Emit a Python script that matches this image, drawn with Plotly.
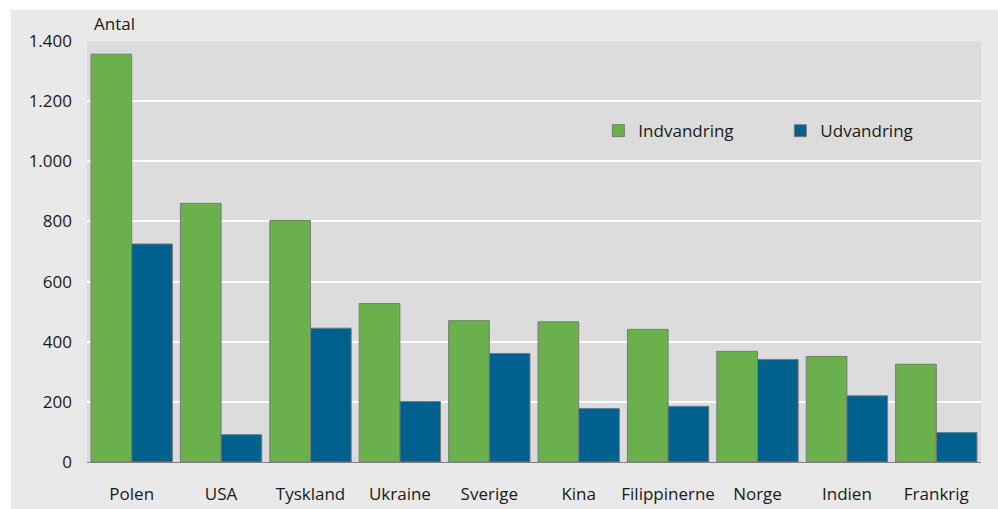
import plotly.graph_objects as go

categories = ["Polen", "USA", "Tyskland", "Ukraine", "Sverige", "Kina",
              "Filippinerne", "Norge", "Indien", "Frankrig"]
indvandring = [1356, 860, 803, 527, 470, 466, 441, 368, 351, 325]
udvandring = [725, 91, 445, 201, 361, 178, 185, 341, 220, 98]
y_ticks = [0, 200, 400, 600, 800, 1000, 1200, 1400]

FONT = "Open Sans"
TXT = "#1a1a1a"

fig = go.Figure()
fig.add_trace(go.Bar(
    x=categories, y=indvandring, name="Indvandring",
    marker=dict(color="#6ab04c", line=dict(color="#7a7a7a", width=1)),
))
fig.add_trace(go.Bar(
    x=categories, y=udvandring, name="Udvandring",
    marker=dict(color="#00618f", line=dict(color="#7a7a7a", width=1)),
))

fig.update_layout(
    width=998, height=509,
    autosize=False,
    margin=dict(l=87, r=17, t=41, b=47, pad=0, autoexpand=False),
    paper_bgcolor="#e9e9e9",
    plot_bgcolor="#dcdcdc",
    separators=",.",
    barmode="group",
    bargap=0.09,
    bargroupgap=0,
    font=dict(family=FONT, size=17, color=TXT),
    showlegend=True,
    legend=dict(
        orientation="h", x=0.572, y=0.786, xanchor="left", yanchor="middle",
        bgcolor="rgba(0,0,0,0)", font=dict(size=17, color=TXT),
        entrywidth=137, entrywidthmode="pixels", itemwidth=30,
    ),
    xaxis=dict(
        automargin=False,
        showline=True, linecolor="#808080", linewidth=1,
        showgrid=False, ticks="", ticklabelstandoff=17,
        tickfont=dict(size=17, color=TXT),
    ),
    yaxis=dict(
        automargin=False,
        range=[0, 1400], tickvals=y_ticks, tickformat=",d",
        showgrid=True, gridcolor="#ffffff", gridwidth=2,
        zeroline=False, showline=False, ticks="",
        ticklabelstandoff=14, tickfont=dict(size=17, color=TXT),
    ),
    annotations=[dict(
        text="Antal", xref="paper", yref="paper", x=0.006, y=1.0, yshift=4,
        xanchor="left", yanchor="bottom", showarrow=False,
        font=dict(size=17, color=TXT),
    )],
    shapes=[
        # white margin strips around the grey panel
        dict(type="rect", xref="paper", yref="paper", x0=-0.2, x1=1.2,
             y0=(462 - 10) / 421, y1=1.3, fillcolor="white", line=dict(width=0),
             layer="above"),
        dict(type="rect", xref="paper", yref="paper", x0=-0.2, x1=(11 - 87) / 894,
             y0=-0.2, y1=1.3, fillcolor="white", line=dict(width=0),
             layer="above"),
    ],
)

fig.write_html(
    "out.html",
    config={"displayModeBar": False},
    post_script="document.body.style.margin='0';document.body.style.overflow='hidden';",
)
